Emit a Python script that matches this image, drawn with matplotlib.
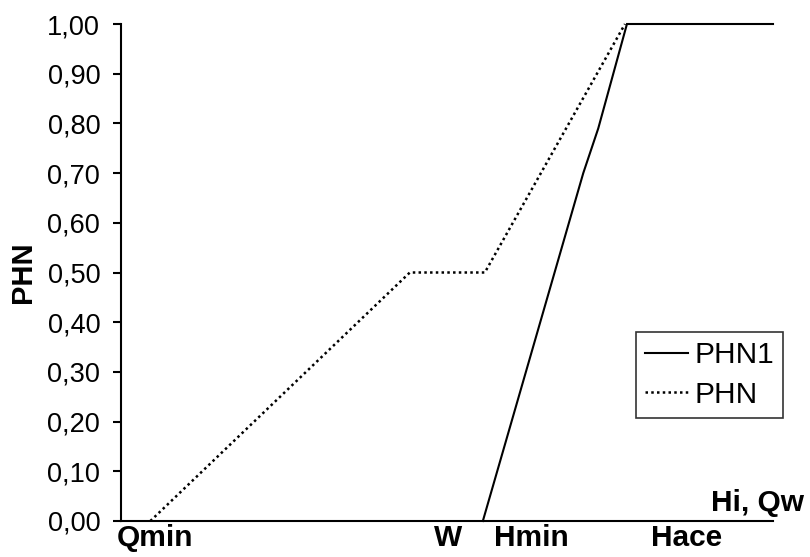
import matplotlib

matplotlib.use("Agg")
import matplotlib.pyplot as plt

plt.rcParams["font.family"] = ["Liberation Sans", "DejaVu Sans"]

# x positions on an arbitrary 0..100 scale
phn_x = [4.5, 44.3, 55.8, 77.3]
phn_y = [0.0, 0.50, 0.50, 1.00]

phn1_x = [55.5, 70.9, 73.2, 77.6, 100.0]
phn1_y = [0.0, 0.70, 0.79, 1.00, 1.00]

xtick_pos = [5.2, 50.2, 62.9, 86.8]
xtick_labels = ["Qmin", "W", "Hmin", "Hace"]
yticks = [0.0, 0.1, 0.2, 0.3, 0.4, 0.5, 0.6, 0.7, 0.8, 0.9, 1.0]

fig = plt.figure(figsize=(8.1, 5.57), dpi=100)
ax = fig.add_axes([121 / 810, 1 - 521 / 557, 652 / 810, 497 / 557])

ax.plot(phn1_x, phn1_y, color="black", lw=1.5, label="PHN1", clip_on=False,
        solid_joinstyle="miter")
ax.plot(phn_x, phn_y, color="black", lw=1.8, ls=(0, (1, 1.3)), label="PHN",
        clip_on=False)

ax.set_xlim(0, 100)
ax.set_ylim(0, 1.0)

ax.set_yticks(yticks)
ax.set_yticklabels([f"{v:.2f}".replace(".", ",") for v in yticks], fontsize=19.5)
ax.tick_params(axis="y", length=6, width=1.5, pad=9, direction="out")

ax.set_xticks(xtick_pos)
ax.set_xticklabels(xtick_labels, fontsize=21.5, fontweight="bold")
ax.tick_params(axis="x", length=0, pad=2)

for side in ("top", "right"):
    ax.spines[side].set_visible(False)
for side in ("left", "bottom"):
    ax.spines[side].set_linewidth(1.5)

ax.set_ylabel("PHN", fontsize=21, fontweight="bold")
ax.yaxis.set_label_coords(-84 / 652, 0.5)

fig.text(804 / 810, 1 - 503 / 557, "Hi, Qw", fontsize=21.5, fontweight="bold",
         ha="right", va="center")

leg = ax.legend(loc="upper right", bbox_to_anchor=(783 / 810, 1 - 332 / 557),
                bbox_transform=fig.transFigure, fontsize=21.5, frameon=True,
                fancybox=False, handlelength=1.45, handletextpad=0.2,
                labelspacing=0.4, borderpad=0.3, borderaxespad=0)
leg.get_frame().set_edgecolor("black")
leg.get_frame().set_linewidth(1.2)

fig.savefig("out.png", dpi=100)
plt.close(fig)
